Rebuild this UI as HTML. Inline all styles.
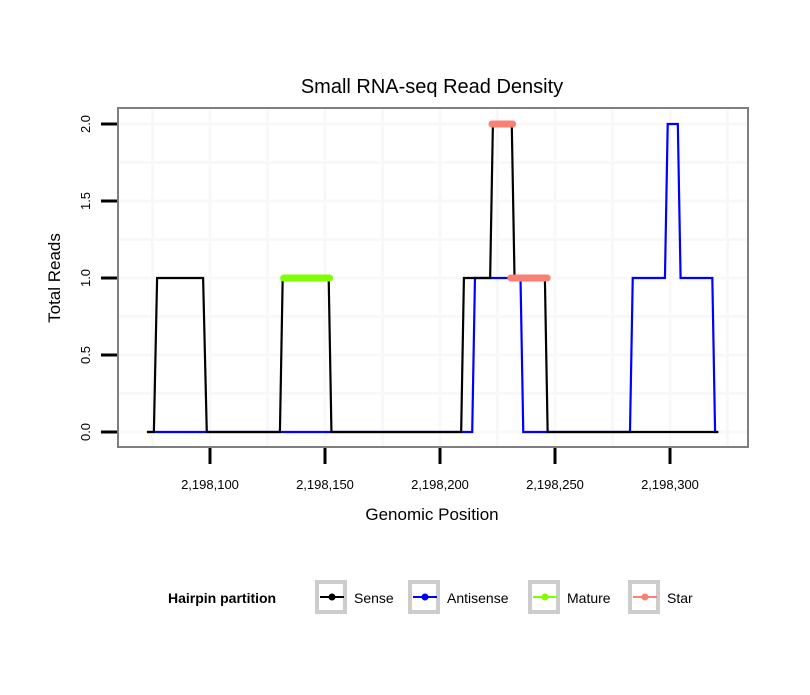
<!DOCTYPE html>
<html><head><meta charset="utf-8"><style>
body{margin:0;background:#fff;font-family:"Liberation Sans",sans-serif}
</style></head><body>
<svg id="c" width="810" height="690" xmlns="http://www.w3.org/2000/svg">
<rect width="810" height="690" fill="#fff"/>
<text x="432" y="93" font-size="20" text-anchor="middle">Small RNA-seq Read Density</text>
<g id="grid"></g>
<g id="series"></g>
<rect x="118" y="108" width="630" height="339" fill="none" stroke="#7f7f7f" stroke-width="2"/>
<g id="axes"></g>
<text x="432" y="520" font-size="17" text-anchor="middle">Genomic Position</text>
<text transform="translate(60,278) rotate(-90)" font-size="17" text-anchor="middle">Total Reads</text>
<g id="legend">
<text x="168" y="603" font-size="14" font-weight="bold">Hairpin partition</text>
</g>
</svg>
<script>
const xTicks=[2198100,2198150,2198200,2198250,2198300];
const xTickLabels=["2,198,100","2,198,150","2,198,200","2,198,250","2,198,300"];
const yTicks=[0,0.5,1,1.5,2];
const yTickLabels=["0.0","0.5","1.0","1.5","2.0"];
const senseX=[2198072.6,2198075.6,2198077,2198097,2198098.6,2198130.4,2198131.6,2198151.6,2198152.8,2198209.2,2198210.4,2198221.8,2198223,2198231.2,2198232.4,2198245.6,2198246.8,2198321];
const senseY=[0,0,1,1,0,0,1,1,0,0,1,1,2,2,1,1,0,0];
const antiX=[2198072.6,2198214,2198215.2,2198235,2198236.2,2198282.6,2198283.8,2198297.8,2198299,2198303.4,2198304.6,2198318.4,2198319.6,2198321];
const antiY=[0,0,1,1,0,0,1,1,2,2,1,1,0,0];
const matureX=[2198132,2198152];
const matureY=[1,1];
const starX1=[2198222.6,2198231.6];
const starY1=[2,2];
const starX2=[2198230.8,2198246.6];
const starY2=[1,1];
const legendNames=["Sense","Antisense","Mature","Star"];
const legendColors=["#000000","#0000ff","#7fff00","#fa8072"];

const NS="http://www.w3.org/2000/svg";
const xs=v=>210+(v-2198100)*2.3;
const ys=v=>432-v*154;
function mk(t,a,parent){const e=document.createElementNS(NS,t);for(const k in a)e.setAttribute(k,a[k]);parent.appendChild(e);return e;}
const grid=document.getElementById('grid'),axes=document.getElementById('axes'),ser=document.getElementById('series'),leg=document.getElementById('legend');
const GC='#f8f8f8';
for(let i=-1;i<xTicks.length;i++){
  const v=xTicks[0]+(i+0.5)*50; const x=xs(v);
  if(x>118&&x<748){const l=mk('line',{x1:x,x2:x,y1:109,y2:446,stroke:GC,'stroke-width':3},grid);
  }
}
xTicks.forEach(v=>{const l=mk('line',{x1:xs(v),x2:xs(v),y1:109,y2:446,stroke:GC,'stroke-width':3},grid);
});
yTicks.forEach((v,i)=>{const l=mk('line',{x1:119,x2:747,y1:ys(v),y2:ys(v),stroke:GC,'stroke-width':3},grid);

if(i<yTicks.length-1){const m=mk('line',{x1:119,x2:747,y1:ys(v+0.25),y2:ys(v+0.25),stroke:GC,'stroke-width':3},grid);
}});
xTicks.forEach((v,i)=>{const t=mk('line',{x1:xs(v),x2:xs(v),y1:448,y2:464,stroke:'#000','stroke-width':3},axes);

const tx=mk('text',{x:xs(v),y:489,'font-size':13,'text-anchor':'middle'},axes);tx.textContent=xTickLabels[i];
});
yTicks.forEach((v,i)=>{const t=mk('line',{x1:101,x2:117,y1:ys(v),y2:ys(v),stroke:'#000','stroke-width':3},axes);

const tx=mk('text',{transform:`translate(90,${ys(v)}) rotate(-90)`,'font-size':13,'text-anchor':'middle'},axes);tx.textContent=yTickLabels[i];
});
function path(X,Y,col,w,name,cap){const d=X.map((x,i)=>(i?'L':'M')+xs(x)+','+ys(Y[i])).join('');
const p=mk('path',{d:d,fill:'none',stroke:col,'stroke-width':w,'stroke-linecap':cap||'butt','stroke-linejoin':'miter'},ser);
}
path(antiX,antiY,'#0000ff',2.2,'antisense-line');
path(senseX,senseY,'#000000',2.2,'sense-line');
path(matureX,matureY,'#7fff00',7,'mature-segment','round');
path(starX1,starY1,'#fa8072',7,'star-segment-upper','round');
path(starX2,starY2,'#fa8072',7,'star-segment-lower','round');
const lx=[315,408,528,628],tx=[354,447,567,667];
legendNames.forEach((n,i)=>{const g=mk('g',{},leg);
mk('rect',{x:lx[i]+2,y:582,width:28,height:30,fill:'#fff',stroke:'#cccccc','stroke-width':4},g);
mk('line',{x1:lx[i]+5,x2:lx[i]+29,y1:597,y2:597,stroke:legendColors[i],'stroke-width':2},g);
mk('circle',{cx:lx[i]+17,cy:597,r:3.5,fill:legendColors[i]},g);
const t=mk('text',{x:tx[i],y:603,'font-size':14},g);t.textContent=n;});
</script>
</body></html>
